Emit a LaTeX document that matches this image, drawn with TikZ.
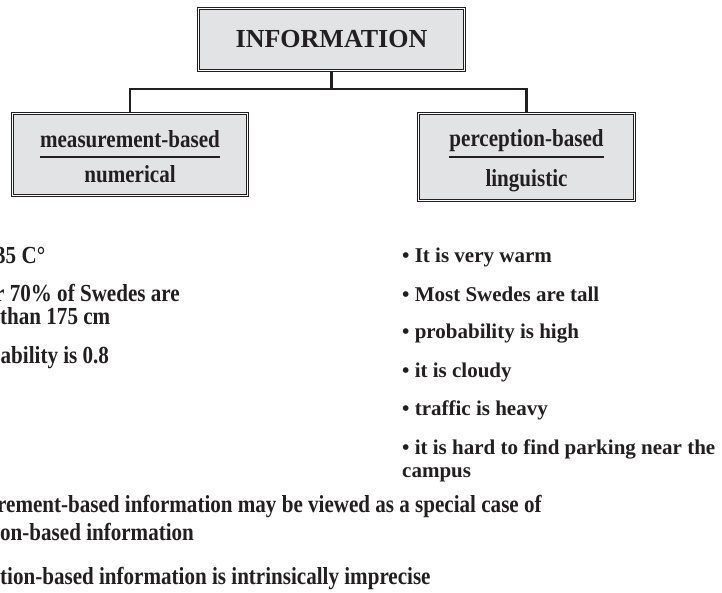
\documentclass[tikz,border=0pt]{standalone}
\usepackage{fontspec}
\setmainfont{Liberation Serif}
\newfontfamily\narrowserif{Liberation Serif}[FakeStretch=0.86]
\definecolor{ink}{HTML}{231F20}
\definecolor{boxgray}{HTML}{E2E3E5}
\begin{document}
\begin{tikzpicture}[x = 1pt, y = -1pt, text = ink,
                    frame/.style = {draw = ink, line width = 1.3pt, double = white, double distance = 0.8pt,
                                    fill = boxgray, inner sep = 0pt},
                    titletext/.style = {font = \fontsize{26}{30}\selectfont\bfseries},
                    boxtext/.style = {font = \narrowserif\fontsize{24.5}{28}\selectfont\bfseries,
                                      anchor = base, inner sep = 0pt},
                    item/.style = {font = \fontsize{21}{23}\selectfont\bfseries, anchor = base west, inner sep = 0pt},
                    narrowitem/.style = {font = \narrowserif\fontsize{24.5}{28}\selectfont\bfseries,
                                         anchor = base west, inner sep = 0pt},
                    link/.style = {draw = ink, line width = 2.7pt},
                    bar/.style = {draw = ink, line width = 2.8pt}]
                    \useasboundingbox (0, 0) rectangle (722, 592);
                    \clip (0, 0) rectangle (722, 592);

                    \node[frame, titletext, minimum width = 266pt, minimum height = 62pt] (info) at (331.5, 39.5) {INFORMATION};
                    \node[frame, minimum width = 235pt, minimum height = 82pt] (meas) at (130, 154.5) {};
                    \node[frame, minimum width = 216pt, minimum height = 87pt] (perc) at (526.5, 157) {};

                    \node[boxtext] (meastop) at (130, 147) {measurement-based};
                    \node[boxtext] (measbot) at (130, 182) {numerical};
                    \node[boxtext] (perctop) at (526.5, 146) {perception-based};
                    \node[boxtext] (percbot) at (526.5, 186) {linguistic};

                    \coordinate (bus) at (331.5, 89);

                    \draw[link] (info) -- (bus);
                    \draw[link] (meas.north) |- (bus) -| (perc.north);

                    \draw[bar] ([yshift = -10pt] meastop.base west) -- ([yshift = -10pt] meastop.base east);
                    \draw[bar] ([yshift = -11pt] perctop.base west) -- ([yshift = -11pt] perctop.base east);

                    \node[narrowitem] (num1) at (-5, 263) {35 C°};
                    \node[narrowitem] (num2) at (-5, 301) {r 70\% of Swedes are};
                    \node[narrowitem] (num2b) at (0, 324) {than 175 cm};
                    \node[narrowitem] (num3) at (0.5, 363) {ability is 0.8};

                    \node[item] (ling1) at (402, 262) {• It is very warm};
                    \node[item] (ling2) at (402, 301) {• Most Swedes are tall};
                    \node[item] (ling3) at (402, 338) {• probability is high};
                    \node[item] (ling4) at (402, 377) {• it is cloudy};
                    \node[item] (ling5) at (402, 415) {• traffic is heavy};
                    \node[item] (ling6) at (402, 454) {• it is hard to find parking near the};
                    \node[item] (ling6b) at (402, 477) {campus};

                    \node[narrowitem] (note1) at (-3, 512) {rement-based information may be viewed as a special case of};
                    \node[narrowitem] (note1b) at (0, 540) {on-based information};
                    \node[narrowitem] (note2) at (0, 584) {tion-based information is intrinsically imprecise};
                \end{tikzpicture}
\end{document}
